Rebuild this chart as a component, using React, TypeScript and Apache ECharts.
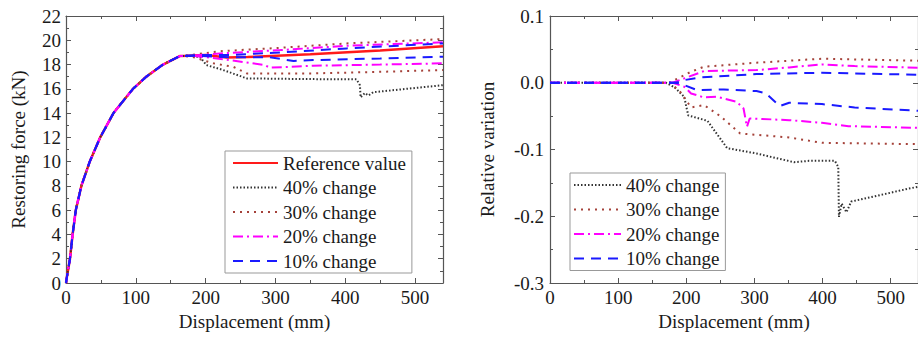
import React, { useEffect, useRef } from "react";
import * as echarts from "echarts";

// ---------- data ----------
const legendLeft = ["Reference value", "40% change", "30% change", "20% change", "10% change"];
const legendRight = ["40% change", "30% change", "20% change", "10% change"];

// shared loading branch of the force–displacement curve (mm, kN)
const riseBranch: number[][] = [
  [0, 0], [1, 0.4], [5.7, 2], [9.5, 4], [14, 6], [22, 8], [34, 10], [49, 12],
  [68, 14], [96, 16], [115, 17], [139, 18], [163, 18.7],
];

const refTail = [[175, 18.72], [200, 18.78], [230, 18.58], [260, 18.62], [350, 18.85], [450, 19.15], [540, 19.5]];
const f40Down = [[175, 18.72], [192, 18.62], [201, 17.96], [225, 17.55], [259, 16.86], [300, 16.83], [354, 16.8], [416, 16.78], [421, 16.3], [422, 15.3], [428, 15.65], [433, 15.45], [440, 15.72], [540, 16.3]];
const f30Down = [[180, 18.65], [211, 18.1], [240, 17.8], [259, 17.27], [354, 17.27], [450, 17.4], [540, 17.55]];
const f30Up = [[180, 18.8], [221, 19.1], [307, 19.38], [402, 19.74], [540, 20.1]];
const f20Down = [[185, 18.7], [216, 18.5], [259, 18.17], [285, 17.95], [292, 17.74], [354, 17.9], [450, 18.0], [540, 18.1]];
const f20Up = [[185, 18.75], [221, 18.92], [307, 19.19], [402, 19.55], [540, 19.83]];
const f10Down = [[190, 18.72], [235, 18.6], [292, 18.6], [326, 18.29], [354, 18.37], [450, 18.5], [540, 18.64]];
const f10Up = [[190, 18.78], [235, 18.78], [307, 19.0], [402, 19.33], [540, 19.74]];

// relative variation (mm, ratio)
const flatBranch: number[][] = [[0, 0], [170, 0]];
const r40Down = [[183, -0.007], [197, -0.021], [200, -0.036], [203, -0.049], [231, -0.057], [260, -0.098], [303, -0.106], [358, -0.119], [380, -0.117], [418, -0.117], [423, -0.126], [424, -0.201], [428, -0.181], [435, -0.194], [442, -0.178], [529, -0.158], [540, -0.156]];
const r30Down = [[175, 0], [190, -0.012], [207, -0.037], [226, -0.0335], [250, -0.05], [279, -0.076], [351, -0.082], [399, -0.09], [540, -0.092]];
const r30Up = [[175, 0], [207, 0.0165], [226, 0.024], [303, 0.03], [399, 0.036], [540, 0.033]];
const r20Down = [[180, 0], [197, -0.006], [207, -0.016], [226, -0.022], [245, -0.021], [274, -0.0285], [284, -0.0385], [289, -0.066], [293, -0.0535], [351, -0.056], [399, -0.06], [438, -0.065], [540, -0.0675]];
const r20Up = [[180, 0], [197, 0.0065], [226, 0.0175], [303, 0.019], [351, 0.023], [399, 0.0275], [447, 0.025], [540, 0.0225]];
const r10Down = [[185, 0], [197, -0.0035], [216, -0.011], [255, -0.01], [303, -0.0125], [317, -0.016], [337, -0.035], [351, -0.03], [399, -0.032], [447, -0.037], [540, -0.042]];
const r10Up = [[185, 0], [197, 0.004], [221, 0.008], [303, 0.013], [399, 0.015], [540, 0.012]];

// ---------- styles ----------
const FONT = "'Liberation Serif', 'Times New Roman', serif";
const TXT = "#1a1a1a";
const AX = "#555";
const styles: Record<string, any> = {
  "Reference value": { color: "#ff1a1a", width: 2.5, type: "solid" },
  "40% change": { color: "#333333", width: 2, type: [1.5, 2] },
  "30% change": { color: "#a5423a", width: 2, type: [2, 5] },
  "20% change": { color: "#ff00ff", width: 2, type: [10, 4, 2, 4] },
  "10% change": { color: "#1a1aff", width: 2, type: [10, 7] },
};

function mk(name: string, data: number[][], xi: number, yi: number) {
  const s = styles[name];
  return {
    type: "line",
    name,
    xAxisIndex: xi,
    yAxisIndex: yi,
    data,
    showSymbol: false,
    symbol: "circle",
    lineStyle: { color: s.color, width: s.width, type: s.type, cap: "butt" },
    itemStyle: { color: s.color },
    silent: true,
  };
}

function axisBase(extra: any) {
  return {
    axisLine: { show: true, onZero: false, lineStyle: { color: AX, width: 1.2 } },
    axisTick: { show: true, inside: true, length: 5, lineStyle: { color: AX } },
    minorTick: { show: true, splitNumber: 2, length: 3, lineStyle: { color: AX } },
    splitLine: { show: false },
    ...extra,
  };
}

export default function App() {
  const ref = useRef<HTMLDivElement>(null);
  useEffect(() => {
    document.body.style.margin = "0";
    if (!ref.current) return;
    const chart = echarts.init(ref.current, null, { renderer: "svg" });
    const labelStyle = { fontFamily: FONT, fontSize: 19, color: TXT };
    const nameStyle = { fontFamily: FONT, fontSize: 19, color: TXT };

    const xBottom = (gi: number) =>
      axisBase({
        type: "value", gridIndex: gi, position: "bottom", min: 0, max: 540, interval: 100,
        axisLabel: { ...labelStyle, margin: 5, showMaxLabel: false },
        name: "Displacement (mm)", nameLocation: "middle", nameGap: 27, nameTextStyle: nameStyle,
      });
    const xTop = (gi: number) =>
      axisBase({ type: "value", gridIndex: gi, position: "top", min: 0, max: 540, interval: 100, axisLabel: { show: false } });

    const legendCommon = {
      orient: "vertical",
      itemWidth: 45,
      itemHeight: 12,
      itemGap: 4.5,
      borderColor: "#999",
      borderWidth: 1,
      backgroundColor: "#fff",
      textStyle: { fontFamily: FONT, fontSize: 19, color: TXT, lineHeight: 20 },
      itemStyle: { opacity: 0 },
      selectedMode: false,
    };

    chart.setOption({
      animation: false,
      grid: [
        { left: 66, right: 475, top: 16, bottom: 55 },
        { left: 550, right: -6, top: 16, bottom: 55 },
      ],
      legend: [
        { ...legendCommon, data: legendLeft, left: 225, top: 151, padding: [2, 6, 2, 7] },
        { ...legendCommon, data: legendRight, left: 570, top: 173, itemWidth: 47, padding: [2, 6, 2, 3] },
      ],
      xAxis: [xBottom(0), xTop(0), xBottom(1), xTop(1)],
      yAxis: [
        axisBase({
          type: "value", gridIndex: 0, position: "left", min: 0, max: 22, interval: 2,
          axisLabel: { ...labelStyle, margin: 5 },
          name: "Restoring force (kN)", nameLocation: "middle", nameGap: 38, nameTextStyle: nameStyle,
        }),
        axisBase({ type: "value", gridIndex: 0, position: "right", min: 0, max: 22, interval: 2, axisLabel: { show: false } }),
        axisBase({
          type: "value", gridIndex: 1, position: "left", min: -0.3, max: 0.1, interval: 0.1,
          axisLabel: { ...labelStyle, margin: 6, formatter: (v: number) => v.toFixed(1) },
          name: "Relative variation", nameLocation: "middle", nameGap: 53, nameTextStyle: nameStyle,
        }),
        axisBase({ type: "value", gridIndex: 1, position: "right", min: -0.3, max: 0.1, interval: 0.1, axisLabel: { show: false } }),
      ],
      series: [
        mk("Reference value", [...riseBranch, ...refTail], 0, 0),
        mk("40% change", [...riseBranch, ...f40Down], 0, 0),
        mk("30% change", [...riseBranch, ...f30Down], 0, 0),
        mk("30% change", [...riseBranch, ...f30Up], 0, 0),
        mk("20% change", [...riseBranch, ...f20Down], 0, 0),
        mk("20% change", [...riseBranch, ...f20Up], 0, 0),
        mk("10% change", [...riseBranch, ...f10Down], 0, 0),
        mk("10% change", [...riseBranch, ...f10Up], 0, 0),
        mk("40% change", [...flatBranch, ...r40Down], 2, 2),
        mk("30% change", [...flatBranch, ...r30Down], 2, 2),
        mk("30% change", [...flatBranch, ...r30Up], 2, 2),
        mk("20% change", [...flatBranch, ...r20Down], 2, 2),
        mk("20% change", [...flatBranch, ...r20Up], 2, 2),
        mk("10% change", [...flatBranch, ...r10Down], 2, 2),
        mk("10% change", [...flatBranch, ...r10Up], 2, 2),
      ],
    });
    return () => chart.dispose();
  }, []);
  return <div ref={ref} style={{ width: 918, height: 338 }} />;
}
